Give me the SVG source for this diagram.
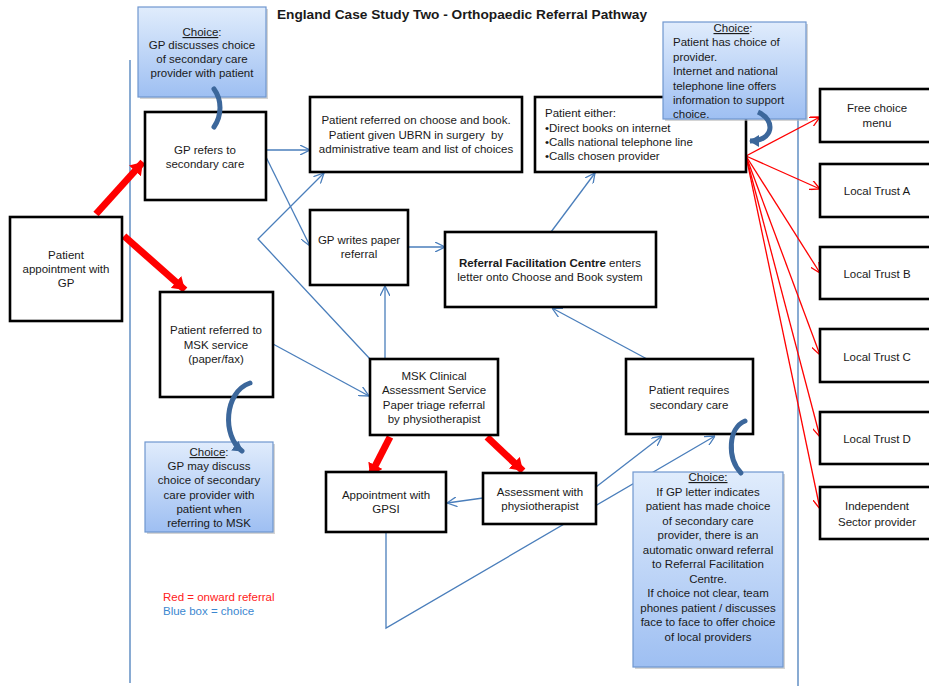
<svg xmlns="http://www.w3.org/2000/svg" width="929" height="686" viewBox="0 0 929 686">
<style>
text{font-family:"Liberation Sans",Arial,sans-serif;font-size:11.5px;fill:#1a1a1a}
.c{text-anchor:middle}
.box{fill:#fff;stroke:#000;stroke-width:2.6}
.choice{fill:url(#cg);stroke:#6f97cf;stroke-width:1.2}
.shadow{fill:#b8b8b8;opacity:0.6}
.u{text-decoration:underline}
.blue{fill:none;stroke:#4a7ebb;stroke-width:1.3}
.redt{fill:none;stroke:#ff0000;stroke-width:1.3}
.redT{fill:none;stroke:#ff0000;stroke-width:7}
.curve{fill:none;stroke:#3c679b;stroke-width:5;stroke-linecap:round}
.sep{stroke:#4a7ebb;stroke-width:1.3}
</style>
<defs>
<linearGradient id="cg" x1="0" y1="0" x2="0" y2="1">
<stop offset="0" stop-color="#e0ecfc"/>
<stop offset="1" stop-color="#9ebff2"/>
</linearGradient>
<marker id="ab" viewBox="0 0 10 10" refX="10" refY="5" markerWidth="10" markerHeight="10" markerUnits="userSpaceOnUse" orient="auto">
<path d="M0,0 L10,5 L0,10" fill="none" stroke="#4a7ebb" stroke-width="1.3"/>
</marker>
<marker id="ar" viewBox="0 0 10 10" refX="10" refY="5" markerWidth="10" markerHeight="10" markerUnits="userSpaceOnUse" orient="auto">
<path d="M0,0 L10,5 L0,10" fill="none" stroke="#ff0000" stroke-width="1.3"/>
</marker>
<marker id="aR" viewBox="0 0 12 16" refX="12" refY="8" markerWidth="12" markerHeight="16" markerUnits="userSpaceOnUse" orient="auto">
<path d="M0,0 L12,8 L0,16 Z" fill="#ff0000"/>
</marker>
<marker id="aC" viewBox="0 0 10 12" refX="9" refY="6" markerWidth="10" markerHeight="12" markerUnits="userSpaceOnUse" orient="auto">
<path d="M0,0 L10,6 L0,12 Z" fill="#3c679b"/>
</marker>
</defs>
<rect width="929" height="686" fill="#fff"/>

<text x="462" y="19" class="c" style="font-weight:bold;font-size:13.7px">England Case Study Two - Orthopaedic Referral Pathway</text>

<g id="separators">
<line x1="130" y1="60" x2="130" y2="683" class="sep"/>
<line x1="798" y1="30" x2="798" y2="686" class="sep"/>
</g>

<g id="connectors">
<line x1="266" y1="150" x2="310" y2="150" class="blue" marker-end="url(#ab)"/>
<line x1="266" y1="157" x2="310" y2="246" class="blue" marker-end="url(#ab)"/>
<polyline points="370,359 258,239 324,173" class="blue" marker-end="url(#ab)"/>
<line x1="408" y1="247" x2="445" y2="247" class="blue" marker-end="url(#ab)"/>
<line x1="385" y1="359" x2="385" y2="286" class="blue" marker-end="url(#ab)"/>
<line x1="551" y1="232" x2="595" y2="173" class="blue" marker-end="url(#ab)"/>
<line x1="647" y1="359" x2="552" y2="308" class="blue" marker-end="url(#ab)"/>
<line x1="273" y1="344" x2="369" y2="396" class="blue" marker-end="url(#ab)"/>
<line x1="483" y1="498" x2="447" y2="503" class="blue" marker-end="url(#ab)"/>
<line x1="596" y1="487" x2="662" y2="436" class="blue" marker-end="url(#ab)"/>
<polyline points="386,532 386,628 715,436" class="blue" marker-end="url(#ab)"/>

<line x1="746" y1="156" x2="820" y2="117" class="redt" marker-end="url(#ar)"/>
<line x1="746" y1="156" x2="820" y2="189" class="redt" marker-end="url(#ar)"/>
<line x1="746" y1="156" x2="820" y2="273" class="redt" marker-end="url(#ar)"/>
<line x1="746" y1="156" x2="820" y2="355" class="redt" marker-end="url(#ar)"/>
<line x1="746" y1="156" x2="820" y2="437" class="redt" marker-end="url(#ar)"/>
<line x1="746" y1="156" x2="820" y2="509" class="redt" marker-end="url(#ar)"/>

<line x1="96" y1="214" x2="143" y2="162" class="redT" marker-end="url(#aR)"/>
<line x1="124" y1="236" x2="185" y2="290" class="redT" marker-end="url(#aR)"/>
<line x1="390" y1="437" x2="370" y2="476" class="redT" marker-end="url(#aR)"/>
<line x1="487" y1="437" x2="523" y2="471" class="redT" marker-end="url(#aR)"/>
</g>

<g id="n1"><rect x="10" y="217" width="112" height="104" class="box"/>
<text class="c" x="66" y="259">Patient</text><text class="c" x="66" y="273">appointment with</text><text class="c" x="66" y="287">GP</text></g>

<g id="n2"><rect x="145" y="112" width="121" height="88" class="box"/>
<text class="c" x="205" y="154">GP refers to</text><text class="c" x="205" y="168">secondary care</text></g>

<g id="n3"><rect x="310" y="97" width="212" height="75" class="box"/>
<text class="c" x="416" y="124">Patient referred on choose and book.</text>
<text class="c" x="416" y="139" xml:space="preserve">Patient given UBRN in surgery  by</text>
<text class="c" x="416" y="153">administrative team and list of choices</text></g>

<g id="n4"><rect x="535" y="97" width="211" height="75" class="box"/>
<text x="545" y="117">Patient either:</text>
<text x="545" y="132">•Direct books on internet</text>
<text x="545" y="146">•Calls national telephone line</text>
<text x="545" y="160">•Calls chosen provider</text></g>

<g id="n5"><rect x="310" y="210" width="98" height="75" class="box"/>
<text class="c" x="359" y="244">GP writes paper</text><text class="c" x="359" y="258">referral</text></g>

<g id="n6"><rect x="445" y="232" width="211" height="75" class="box"/>
<text class="c" x="550" y="267"><tspan font-weight="bold">Referral Facilitation Centre</tspan> enters</text>
<text class="c" x="550" y="281">letter onto Choose and Book system</text></g>

<g id="n7"><rect x="160" y="292" width="113" height="105" class="box"/>
<text class="c" x="216" y="334">Patient referred to</text><text class="c" x="216" y="349">MSK service</text><text class="c" x="216" y="363">(paper/fax)</text></g>

<g id="n8"><rect x="370" y="359" width="128" height="76" class="box"/>
<text class="c" x="434" y="380">MSK Clinical</text><text class="c" x="434" y="394">Assessment Service</text>
<text class="c" x="434" y="409">Paper triage referral</text><text class="c" x="434" y="423">by physiotherapist</text></g>

<g id="n9"><rect x="326" y="472" width="120" height="60" class="box"/>
<text class="c" x="386" y="499">Appointment with</text><text class="c" x="386" y="513">GPSI</text></g>

<g id="n10"><rect x="483" y="473" width="113" height="51" class="box"/>
<text class="c" x="540" y="496">Assessment with</text><text class="c" x="540" y="510">physiotherapist</text></g>

<g id="n11"><rect x="626" y="359" width="127" height="75" class="box"/>
<text class="c" x="689" y="394">Patient requires</text><text class="c" x="689" y="409">secondary care</text></g>

<g id="r1"><rect x="820" y="89" width="120" height="53" class="box"/>
<text class="c" x="877" y="112">Free choice</text><text class="c" x="877" y="127">menu</text></g>
<g id="r2"><rect x="820" y="164" width="120" height="53" class="box"/>
<text class="c" x="877" y="195">Local Trust A</text></g>
<g id="r3"><rect x="820" y="247" width="120" height="52" class="box"/>
<text class="c" x="877" y="278">Local Trust B</text></g>
<g id="r4"><rect x="820" y="329" width="120" height="53" class="box"/>
<text class="c" x="877" y="361">Local Trust C</text></g>
<g id="r5"><rect x="820" y="412" width="120" height="52" class="box"/>
<text class="c" x="877" y="443">Local Trust D</text></g>
<g id="r6"><rect x="820" y="487" width="120" height="52" class="box"/>
<text class="c" x="877" y="510">Independent</text><text class="c" x="877" y="526">Sector provider</text></g>

<g id="choiceA">
<rect x="140" y="9" width="128" height="90" class="shadow"/>
<rect x="138" y="7" width="128" height="90" class="choice"/>
<text class="c" x="202" y="36"><tspan class="u">Choice</tspan>:</text>
<text class="c" x="202" y="49">GP discusses choice</text>
<text class="c" x="202" y="63">of secondary care</text>
<text class="c" x="202" y="77">provider with patient</text>
</g>

<g id="choiceB">
<rect x="665" y="24" width="143" height="97" class="shadow"/>
<rect x="663" y="22" width="143" height="97" class="choice"/>
<text class="c" x="733" y="32"><tspan class="u">Choice</tspan>:</text>
<text x="673" y="46">Patient has choice of</text>
<text x="673" y="61">provider.</text>
<text x="673" y="75">Internet and national</text>
<text x="673" y="90">telephone line offers</text>
<text x="673" y="104">information to support</text>
<text x="673" y="118">choice.</text>
</g>

<g id="choiceC">
<rect x="147" y="444" width="128" height="90" class="shadow"/>
<rect x="145" y="442" width="128" height="90" class="choice"/>
<text class="c" x="209" y="456"><tspan class="u">Choice</tspan>:</text>
<text class="c" x="209" y="470">GP may discuss</text>
<text class="c" x="209" y="484">choice of secondary</text>
<text class="c" x="209" y="499">care provider with</text>
<text class="c" x="209" y="513">patient when</text>
<text class="c" x="209" y="527">referring to MSK</text>
</g>

<g id="choiceD">
<rect x="635" y="474" width="150" height="195" class="shadow"/>
<rect x="633" y="472" width="150" height="195" class="choice"/>
<text class="c" x="708" y="481"><tspan class="u">Choice:</tspan></text>
<text class="c" x="708" y="495.5">If GP letter indicates</text>
<text class="c" x="708" y="510">patient has made choice</text>
<text class="c" x="708" y="524.5">of secondary care</text>
<text class="c" x="708" y="539">provider, there is an</text>
<text class="c" x="708" y="553.5">automatic onward referral</text>
<text class="c" x="708" y="568">to Referral Facilitation</text>
<text class="c" x="708" y="582.5">Centre.</text>
<text class="c" x="708" y="597">If choice not clear, team</text>
<text class="c" x="708" y="611.5">phones patient / discusses</text>
<text class="c" x="708" y="626">face to face to offer choice</text>
<text class="c" x="708" y="640.5">of local providers</text>
</g>

<g id="choice-links">
<path d="M214,89 C222,100 222,115 214,127" class="curve"/>
<path d="M758,112 C776,120 774,141 750,141" class="curve" stroke-width="7" marker-end="url(#aC)" style="stroke-linecap:butt"/>
<path d="M250,383 C224,392 222,436 242,451" class="curve" marker-end="url(#aC)"/>
<path d="M745,421 C728,428 727,458 741,473" class="curve"/>
</g>

<g id="legend">
<text x="163" y="601" style="fill:#ff2020">Red = onward referral</text>
<text x="163" y="615" style="fill:#3b87d0">Blue box = choice</text>
</g>
</svg>
